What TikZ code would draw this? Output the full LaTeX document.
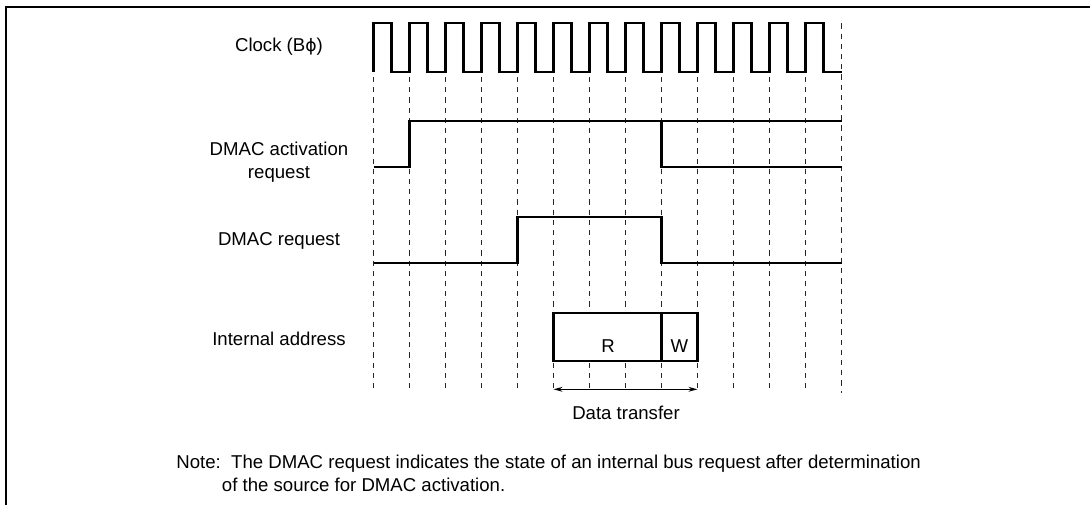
\documentclass[tikz,border=0pt]{standalone}
\usepackage{fontspec}
\setmainfont{Liberation Sans}
\newfontfamily\greekfont{DejaVu Sans}
\usetikzlibrary{arrows.meta}
\newcommand{\sigfont}{\fontsize{9.3}{11.2}\selectfont}
\tikzset{
  frameline/.style={line width=1pt},
  wave/.style={line width=1.05pt, line join=miter},
  gridline/.style={line width=0.45pt, black!85, dash pattern=on 2.6pt off 2.5pt},
  siglabel/.style={align=center, font=\sigfont, inner sep=0pt},
  xferarrow/.style={{Stealth[length=4.5pt,width=2.4pt]}-{Stealth[length=4.5pt,width=2.4pt]}, line width=0.55pt}
}

\begin{document}
\begin{tikzpicture}[x=0.5pt, y=-0.5pt]
  \useasboundingbox (0,0) rectangle (1090,505);
  % frame
  \draw[frameline] (6,505) -- (6,6.5) -- (1090,6.5);

  % time grid
  \foreach \k in {0,...,12}
    \draw[gridline] ({373.5+36*\k},77) -- ({373.5+36*\k},393);
  \draw[gridline] (841.5,23.3) -- (841.5,393);

  % signal names
  \node[siglabel] (clklbl) at (279,47) {Clock (B{\greekfont\fontsize{8.6}{10}\selectfont ϕ})};
  \node[siglabel] (actlbl) at (279,162) {DMAC activation\\request};
  \node[siglabel] (reqlbl) at (279,241) {DMAC request};
  \node[siglabel] (addrlbl) at (279,339) {Internal address};

  % clock
  \draw[wave] (373.5,71.7) \foreach \k in {0,...,12} { -- ++(0,-48.4) -- ++(18,0) -- ++(0,48.4) -- ++(18,0) };

  % DMAC activation request
  \draw[wave] (373.5,167.3) -- (409.5,167.3) -- (409.5,121) -- (841.5,121);
  \draw[wave] (661.5,121) -- (661.5,167.3) -- (841.5,167.3);

  % DMAC request
  \draw[wave] (373.5,263.3) -- (517.5,263.3) -- (517.5,216.7) -- (661.5,216.7)
    -- (661.5,263.3) -- (841.5,263.3);

  % internal address
  \draw[wave, fill=white] (553.5,312.7) rectangle (697.5,361);
  \draw[wave] (661.5,312.7) -- (661.5,361);
  \node[siglabel] (rlbl) at (608,346) {R};
  \node[siglabel] (wlbl) at (679.5,346) {W};

  % data transfer
  \coordinate (xferL) at (553.5,389.3);
  \coordinate (xferR) at (697.5,389.3);
  \draw[xferarrow] (xferL) -- (xferR);
  \node[siglabel] (xferlbl) at (626,413) {Data transfer};

  % note
  \node[siglabel, align=left, anchor=north west] (note) at (176,455)
    {Note:\ \ The DMAC request indicates the state of an internal bus request after determination\\
     \hspace*{2.45em}of the source for DMAC activation.};
\end{tikzpicture}
\end{document}
